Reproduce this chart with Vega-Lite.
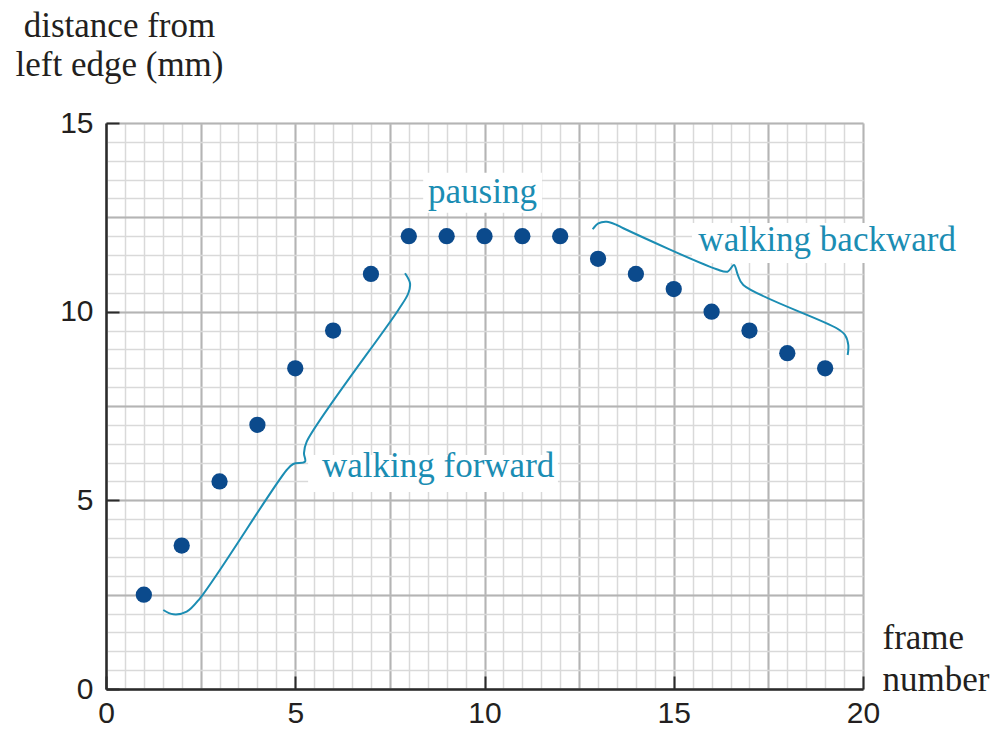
{
  "$schema": "https://vega.github.io/schema/vega-lite/v6.json",
  "width": 757,
  "height": 566,
  "autosize": "none",
  "padding": {"left": 106, "top": 123, "right": 137, "bottom": 40},
  "background": "white",
  "config": {"view": {"stroke": null}},
  "datasets": {
    "frames": [
      {"frame": 1, "distance": 2.5},
      {"frame": 2, "distance": 3.8},
      {"frame": 3, "distance": 5.5},
      {"frame": 4, "distance": 7.0},
      {"frame": 5, "distance": 8.5},
      {"frame": 6, "distance": 9.5},
      {"frame": 7, "distance": 11.0},
      {"frame": 8, "distance": 12.0},
      {"frame": 9, "distance": 12.0},
      {"frame": 10, "distance": 12.0},
      {"frame": 11, "distance": 12.0},
      {"frame": 12, "distance": 12.0},
      {"frame": 13, "distance": 11.4},
      {"frame": 14, "distance": 11.0},
      {"frame": 15, "distance": 10.6},
      {"frame": 16, "distance": 10.0},
      {"frame": 17, "distance": 9.5},
      {"frame": 18, "distance": 8.9},
      {"frame": 19, "distance": 8.5}
    ],
    "boxes": [
      {"x": 5.34, "x2": 11.94, "y": 5.22, "y2": 6.2},
      {"x": 8.38, "x2": 11.52, "y": 12.62, "y2": 13.68},
      {"x": 15.48, "x2": 20.3, "y": 11.29, "y2": 12.35}
    ],
    "phases": [
      {"x": 5.707, "y": 5.619, "text": "walking forward"},
      {"x": 15.65, "y": 11.609, "text": "walking backward"}
    ],
    "pause": [
      {"x": 9.947, "y": 12.873, "text": "pausing"}
    ],
    "braces": [
      {"brace": "forward", "order": 1, "x": 1.514, "y": 2.094},
      {"brace": "forward", "order": 2, "x": 1.778, "y": 1.98},
      {"brace": "forward", "order": 3, "x": 2.132, "y": 2.049},
      {"brace": "forward", "order": 4, "x": 2.483, "y": 2.404},
      {"brace": "forward", "order": 5, "x": 4.774, "y": 5.804},
      {"brace": "forward", "order": 6, "x": 4.948, "y": 5.963},
      {"brace": "forward", "order": 7, "x": 5.258, "y": 6.024},
      {"brace": "forward", "order": 8, "x": 5.231, "y": 6.247},
      {"brace": "forward", "order": 9, "x": 5.303, "y": 6.554},
      {"brace": "forward", "order": 10, "x": 7.723, "y": 10.045},
      {"brace": "forward", "order": 11, "x": 7.987, "y": 10.488},
      {"brace": "forward", "order": 12, "x": 8.032, "y": 10.753},
      {"brace": "forward", "order": 13, "x": 7.9, "y": 11.018},
      {"brace": "backward", "order": 1, "x": 12.858, "y": 12.184},
      {"brace": "backward", "order": 2, "x": 13.007, "y": 12.343},
      {"brace": "backward", "order": 3, "x": 13.229, "y": 12.385},
      {"brace": "backward", "order": 4, "x": 13.493, "y": 12.298},
      {"brace": "backward", "order": 5, "x": 13.667, "y": 12.21},
      {"brace": "backward", "order": 6, "x": 16.135, "y": 11.124},
      {"brace": "backward", "order": 7, "x": 16.42, "y": 11.06},
      {"brace": "backward", "order": 8, "x": 16.592, "y": 11.238},
      {"brace": "backward", "order": 9, "x": 16.69, "y": 10.98},
      {"brace": "backward", "order": 10, "x": 16.838, "y": 10.708},
      {"brace": "backward", "order": 11, "x": 19.305, "y": 9.56},
      {"brace": "backward", "order": 12, "x": 19.524, "y": 9.382},
      {"brace": "backward", "order": 13, "x": 19.611, "y": 9.117},
      {"brace": "backward", "order": 14, "x": 19.595, "y": 8.852}
    ]
  },
  "resolve": {"axis": {"x": "independent", "y": "independent"}},
  "layer": [
    {
      "data": {"name": "frames"},
      "mark": {"type": "point", "opacity": 0},
      "encoding": {
        "x": {"field": "frame", "type": "quantitative", "scale": {"domain": [0, 20], "nice": false},
          "axis": {"orient": "bottom", "values": [0,0.5,1,1.5,2,2.5,3,3.5,4,4.5,5,5.5,6,6.5,7,7.5,8,8.5,9,9.5,10,10.5,11,11.5,12,12.5,13,13.5,14,14.5,15,15.5,16,16.5,17,17.5,18,18.5,19,19.5,20],
            "grid": true, "gridColor": "#d9d9d9", "gridWidth": 1.5, "gridOpacity": 1, "domain": false, "ticks": false, "labels": false, "title": null}},
        "y": {"field": "distance", "type": "quantitative", "scale": {"domain": [0, 15], "nice": false},
          "axis": {"orient": "left", "values": [0,0.5,1,1.5,2,2.5,3,3.5,4,4.5,5,5.5,6,6.5,7,7.5,8,8.5,9,9.5,10,10.5,11,11.5,12,12.5,13,13.5,14,14.5,15],
            "grid": true, "gridColor": "#d9d9d9", "gridWidth": 1.5, "gridOpacity": 1, "domain": false, "ticks": false, "labels": false, "title": null}}
      }
    },
    {
      "data": {"name": "frames"},
      "mark": {"type": "point", "opacity": 0},
      "encoding": {
        "x": {"field": "frame", "type": "quantitative", "scale": {"domain": [0, 20], "nice": false},
          "axis": {"orient": "bottom", "values": [0,2.5,5,7.5,10,12.5,15,17.5,20],
            "grid": true, "gridColor": "#b4b4b4", "gridWidth": 2, "gridOpacity": 1, "domain": false, "ticks": false, "labels": false, "title": null}},
        "y": {"field": "distance", "type": "quantitative", "scale": {"domain": [0, 15], "nice": false},
          "axis": {"orient": "left", "values": [0,2.5,5,7.5,10,12.5,15],
            "grid": true, "gridColor": "#b4b4b4", "gridWidth": 2, "gridOpacity": 1, "domain": false, "ticks": false, "labels": false, "title": null}}
      }
    },
    {
      "data": {"name": "boxes"},
      "mark": {"type": "rect", "color": "white"},
      "encoding": {
        "x": {"field": "x", "type": "quantitative", "scale": {"domain": [0, 20], "nice": false}, "axis": null},
        "x2": {"field": "x2"},
        "y": {"field": "y", "type": "quantitative", "scale": {"domain": [0, 15], "nice": false}, "axis": null},
        "y2": {"field": "y2"}
      }
    },
    {
      "data": {"name": "braces"},
      "mark": {"type": "line", "color": "#1b8db3", "strokeWidth": 2, "interpolate": "catmull-rom"},
      "encoding": {
        "x": {"field": "x", "type": "quantitative", "scale": {"domain": [0, 20], "nice": false}, "axis": null},
        "y": {"field": "y", "type": "quantitative", "scale": {"domain": [0, 15], "nice": false}, "axis": null},
        "detail": {"field": "brace"},
        "order": {"field": "order", "type": "quantitative"}
      }
    },
    {
      "data": {"name": "phases"},
      "mark": {"type": "text", "color": "#1b8db3", "font": "Liberation Serif", "fontSize": 35, "baseline": "alphabetic", "align": "left"},
      "encoding": {
        "x": {"field": "x", "type": "quantitative", "scale": {"domain": [0, 20], "nice": false}, "axis": null},
        "y": {"field": "y", "type": "quantitative", "scale": {"domain": [0, 15], "nice": false}, "axis": null},
        "text": {"field": "text"}
      }
    },
    {
      "data": {"name": "pause"},
      "mark": {"type": "text", "color": "#1b8db3", "font": "Liberation Serif", "fontSize": 35, "baseline": "alphabetic", "align": "center"},
      "encoding": {
        "x": {"field": "x", "type": "quantitative", "scale": {"domain": [0, 20], "nice": false}, "axis": null},
        "y": {"field": "y", "type": "quantitative", "scale": {"domain": [0, 15], "nice": false}, "axis": null},
        "text": {"field": "text"}
      }
    },
    {
      "data": {"name": "frames"},
      "mark": {"type": "circle", "color": "#0b4a8c", "opacity": 1, "size": 265},
      "encoding": {
        "x": {"field": "frame", "type": "quantitative", "scale": {"domain": [0, 20], "nice": false},
          "axis": {"orient": "bottom", "values": [0, 5, 10, 15, 20], "grid": false,
            "domainColor": "#2b2b2b", "domainWidth": 2.5, "tickColor": "#2b2b2b", "tickWidth": 2, "tickSize": -13,
            "labelFont": "Liberation Sans", "labelFontSize": 30, "labelColor": "#231f20", "labelPadding": 22,
            "labelFlush": false, "labelOverlap": false, "labelBound": false,
            "title": ["frame", "number"], "titleFont": "Liberation Serif", "titleFontSize": 35, "titleFontWeight": "normal",
            "titleColor": "#231f20", "titleAlign": "left", "titleAnchor": "start", "titleX": 776, "titleY": -41,
            "titleBaseline": "alphabetic", "titleLineHeight": 42}},
        "y": {"field": "distance", "type": "quantitative", "scale": {"domain": [0, 15], "nice": false},
          "axis": {"orient": "left", "values": [0, 5, 10, 15], "grid": false,
            "domainColor": "#2b2b2b", "domainWidth": 2.5, "tickColor": "#2b2b2b", "tickWidth": 2, "tickSize": -13,
            "labelFont": "Liberation Sans", "labelFontSize": 30, "labelColor": "#231f20", "labelPadding": 26,
            "labelFlush": false, "labelOverlap": false, "labelBound": false,
            "title": ["distance from", "left edge (mm)"], "titleFont": "Liberation Serif", "titleFontSize": 35, "titleFontWeight": "normal",
            "titleColor": "#231f20", "titleAngle": 0, "titleAlign": "center", "titleX": 13, "titleY": -87,
            "titleBaseline": "alphabetic", "titleLineHeight": 39}}
      }
    }
  ]
}
